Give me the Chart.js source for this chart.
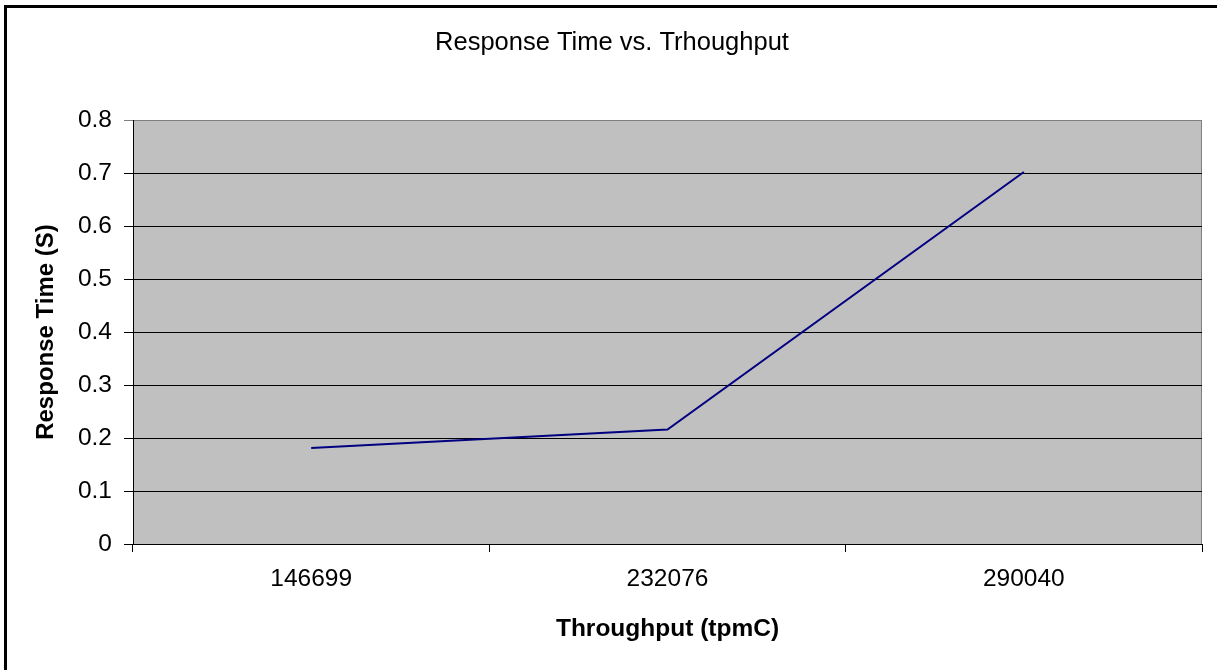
<!DOCTYPE html>
<html>
<head>
<meta charset="utf-8">
<title>Response Time vs. Trhoughput</title>
<script src="https://cdn.jsdelivr.net/npm/chart.js@4/dist/chart.umd.min.js"></script>
<style>
    html, body { margin: 0; padding: 0; background: #fff; overflow: hidden; }
    #wrap { position: relative; width: 1217px; height: 670px; }
</style>
</head>
<body>
<div id="wrap"><canvas id="chart"></canvas></div>
<script>
'use strict';

const categories = ['146699', '232076', '290040'];
const responseTimes = [0.181, 0.216, 0.702];
const yTickLabels = ['0', '0.1', '0.2', '0.3', '0.4', '0.5', '0.6', '0.7', '0.8'];

const FONT = '"Liberation Sans", Arial, sans-serif';

// grey plot area + the frame round the whole picture
const excelLook = {
    id: 'excelLook',
    beforeDraw(chart) {
        const { ctx, chartArea: a } = chart;
        ctx.save();
        ctx.fillStyle = '#c0c0c0';
        ctx.fillRect(a.left, a.top, a.right - a.left, a.bottom - a.top);
        ctx.strokeStyle = '#808080';
        ctx.lineWidth = 1;
        ctx.beginPath();
        ctx.moveTo(a.left, a.top + 0.5);
        ctx.lineTo(a.right - 0.5, a.top + 0.5);
        ctx.lineTo(a.right - 0.5, a.bottom);
        ctx.stroke();
        ctx.restore();
    },
    afterDraw(chart) {
        const ctx = chart.ctx;
        ctx.save();
        ctx.fillStyle = '#000';
        ctx.fillRect(4, 5, 3, chart.height);
        ctx.fillRect(4, 5, chart.width, 3);
        ctx.restore();
    }
};

// eslint-disable-next-line no-undef
const chart = new Chart(document.getElementById('chart'), {
    type: 'line',
    data: {
        labels: categories,
        datasets: [{
            data: responseTimes,
            borderColor: '#000080',
            borderWidth: 2,
            pointRadius: 0,
            tension: 0,
            fill: false
        }]
    },
    options: {
        responsive: true,
        maintainAspectRatio: false,
        animation: false,
        layout: { padding: { left: 22, right: 15, top: 0, bottom: 0 } },
        plugins: {
            legend: { display: false },
            tooltip: { enabled: false },
            title: {
                display: true,
                text: 'Response Time vs. Trhoughput',
                color: '#000',
                font: { family: FONT, size: 25.5, weight: 'normal' },
                padding: { top: 27.5, bottom: 61.9 }
            }
        },
        scales: {
            x: {
                type: 'category',
                offset: true,
                afterFit(scale) { scale.height = 126; },
                grid: {
                    offset: true,
                    drawOnChartArea: false,
                    drawTicks: true,
                    tickLength: 8,
                    color: '#000'
                },
                border: { display: true, color: '#000', width: 1 },
                ticks: {
                    color: '#000',
                    padding: 13,
                    font: { family: FONT, size: 24.5 },
                    maxRotation: 0
                },
                title: {
                    display: true,
                    text: 'Throughput (tpmC)',
                    color: '#000',
                    font: { family: FONT, size: 24.5, weight: 'bold' },
                    padding: { top: 0, bottom: 26.3 }
                }
            },
            y: {
                min: 0,
                max: 0.8,
                afterFit(scale) { scale.width = 111; },
                grid: {
                    color: ctx => (ctx.tick && ctx.tick.value >= 0.8 ? '#808080' : '#000'),
                    lineWidth: 1,
                    drawTicks: true,
                    tickLength: 9
                },
                border: { display: true, color: '#000', width: 1 },
                ticks: {
                    stepSize: 0.1,
                    color: '#000',
                    padding: 12,
                    font: { family: FONT, size: 24.5 },
                    callback: v => yTickLabels[Math.round(v * 10)]
                },
                title: {
                    display: true,
                    text: 'Response Time (S)',
                    color: '#000',
                    font: { family: FONT, size: 24, weight: 'bold' },
                    padding: { top: 10, bottom: 0 }
                }
            }
        }
    },
    plugins: [excelLook]
});
</script>
</body>
</html>
